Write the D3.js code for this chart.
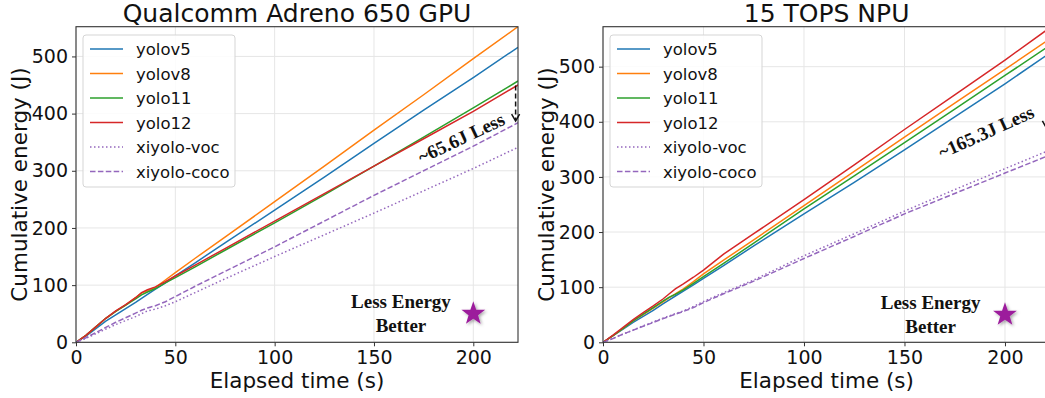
<!DOCTYPE html>
<html><head><meta charset="utf-8">
<script src="https://cdn.jsdelivr.net/npm/d3@7"></script>
<style>html,body{margin:0;padding:0;background:#fff;}svg{display:block;}</style>
</head><body>
<svg id="chart" width="1045" height="398"></svg>
<script>
// ---- data ----
const seriesNames = ["yolov5", "yolov8", "yolo11", "yolo12", "xiyolo-voc", "xiyolo-coco"];
const time = [0, 5, 10, 15, 20, 25, 30, 33, 36, 40, 45, 50, 60, 75, 100, 125, 150, 175, 200, 222.5];

// Qualcomm Adreno 650 GPU
const gpuYolov5 = [0, 11, 24, 37, 48, 59, 70, 77, 84, 93, 104, 116, 139, 174, 231, 289, 348, 406, 463, 516];
const gpuYolov8 = [0, 12, 27, 42, 54, 65, 78, 86, 90, 96, 109, 122, 147, 184, 246, 308, 371, 433, 496, 552];
const gpuYolo11 = [0, 12, 27, 42, 54, 65, 76, 83, 88, 94, 104, 113, 132, 161, 209, 258, 308, 359, 410, 457];
const gpuYolo12 = [0, 12, 27, 42, 55, 66, 78, 87, 92, 97, 106, 116, 135, 164, 212, 260, 308, 356, 404, 450];
const gpuXiVoc  = [0, 7, 15, 23, 31, 38, 45, 50, 55, 58, 64, 71, 87, 111, 150, 188, 226, 265, 304, 341];
const gpuXiCoco = [0, 8, 17, 26, 35, 43, 51, 56, 60, 64, 71, 80, 98, 124, 167, 212, 257, 300, 343, 384];

// 15 TOPS NPU
const npuYolov5 = [0, 12, 24, 36, 47, 58, 70, 77, 84, 93, 104, 116, 139, 175, 233, 290, 349, 409, 469, 525];
const npuYolov8 = [0, 12, 25, 39, 50, 62, 74, 81, 88, 97, 110, 124, 149, 186, 248, 310, 372, 434, 495, 551];
const npuYolo11 = [0, 12, 25, 39, 51, 63, 75, 82, 87, 95, 107, 119, 143, 180, 242, 302, 362, 423, 484, 539];
const npuYolo12 = [0, 13, 27, 41, 54, 66, 79, 88, 97, 106, 118, 131, 160, 197, 259, 322, 386, 449, 512, 571];
const npuXiVoc  = [0, 7, 15, 22, 30, 37, 44, 48, 52, 57, 65, 74, 90, 113, 157, 197, 238, 277, 315, 349];
const npuXiCoco = [0, 7, 15, 22, 29, 36, 43, 47, 51, 56, 63, 72, 88, 111, 152, 192, 233, 270, 307, 340];

const xTicks = [0, 50, 100, 150, 200];
const yTicks = [0, 100, 200, 300, 400, 500];
const titles = ["Qualcomm Adreno 650 GPU", "15 TOPS NPU"];
const annotations = ["~65.6J Less", "~165.3J Less"];
const xLabel = "Elapsed time (s)";
const yLabel = "Cumulative energy (J)";

// ---- styles ----
const colors = ["#1f77b4", "#ff7f0e", "#2ca02c", "#d62728", "#9467bd", "#9467bd"];
const dashes = [null, null, null, null, "1.5,2.5", "5.5,2.4"];

const panels = [
  { title: titles[0], data: [gpuYolov5, gpuYolov8, gpuYolo11, gpuYolo12, gpuXiVoc, gpuXiCoco],
    x0: 76, x1: 518, xMax: 222.5, yMax: 552,
    ann: { text: annotations[0], x: 194.4, y: 354, angle: -25.3 },
    arrow: { x: 221.3, y0: 449, y1: 387 },
    less: { x: 163.6 }, star: { x: 200, y: 50 } },
  { title: titles[1], data: [npuYolov5, npuYolov8, npuYolo11, npuYolo12, npuXiVoc, npuXiCoco],
    x0: 603, x1: 1050.2, xMax: 222.5, yMax: 572.5,
    ann: { text: annotations[1], x: 191, y: 378, angle: -24.4 },
    arrow: { x: 220.6, y0: 571, y1: 389 },
    less: { x: 163 }, star: { x: 200, y: 50 } }
];
const yTop = 26.7, yBot = 342.3;

const svg = d3.select("#chart");
const defs = svg.append("defs");
const f = defs.append("filter").attr("id", "shadow").attr("x", "-50%").attr("y", "-50%").attr("width", "200%").attr("height", "200%");
f.append("feDropShadow").attr("dx", 1.5).attr("dy", 1.5).attr("stdDeviation", 1.5).attr("flood-color", "#000").attr("flood-opacity", 0.35);

function starPath(cx, cy, R, r) {
  const pts = [];
  for (let i = 0; i < 10; i++) {
    const a = -Math.PI / 2 + i * Math.PI / 5;
    const rad = i % 2 === 0 ? R : r;
    pts.push([cx + rad * Math.cos(a), cy + rad * Math.sin(a)]);
  }
  return "M" + pts.map(p => p.join(",")).join("L") + "Z";
}

panels.forEach((p, pi) => {
  const x = d3.scaleLinear().domain([0, p.xMax]).range([p.x0, p.x1]);
  const y = d3.scaleLinear().domain([0, p.yMax]).range([yBot, yTop]);
  const g = svg.append("g");

  defs.append("clipPath").attr("id", "clip" + pi).append("rect")
    .attr("x", p.x0).attr("y", yTop).attr("width", p.x1 - p.x0).attr("height", yBot - yTop);

  // grid
  g.append("g").selectAll("line.vg").data(xTicks).join("line")
    .attr("x1", d => x(d)).attr("x2", d => x(d)).attr("y1", yTop).attr("y2", yBot)
    .attr("stroke", "#e6e6e6").attr("stroke-width", 1);
  g.append("g").selectAll("line.hg").data(yTicks).join("line")
    .attr("x1", p.x0).attr("x2", p.x1).attr("y1", d => y(d)).attr("y2", d => y(d))
    .attr("stroke", "#e6e6e6").attr("stroke-width", 1);

  // lines
  const line = d3.line().x((d, i) => x(time[i])).y(d => y(d));
  const lg = g.append("g").attr("clip-path", `url(#clip${pi})`);
  p.data.forEach((s, si) => {
    lg.append("path").datum(s).attr("d", line).attr("fill", "none")
      .attr("stroke", colors[si]).attr("stroke-width", 1.5)
      .attr("stroke-dasharray", dashes[si]);
  });

  // axes
  const xAxis = g.append("g").attr("transform", `translate(0,${yBot})`)
    .call(d3.axisBottom(x).tickValues(xTicks).tickSize(4).tickPadding(4).tickFormat(d3.format("d")));
  const yAxis = g.append("g").attr("transform", `translate(${p.x0},0)`)
    .call(d3.axisLeft(y).tickValues(yTicks).tickSize(4).tickPadding(4).tickFormat(d3.format("d")));
  [xAxis, yAxis].forEach(a => {
    a.select(".domain").remove();
    a.selectAll(".tick line").attr("stroke", "#333");
    a.selectAll("text").attr("font-family", "DejaVu Sans").attr("font-size", 19).attr("fill", "#111");
  });
  // frame
  g.append("rect").attr("x", p.x0).attr("y", yTop).attr("width", p.x1 - p.x0).attr("height", yBot - yTop)
    .attr("fill", "none").attr("stroke", "#333").attr("stroke-width", 1.1);

  // titles & labels
  const cx = (p.x0 + p.x1) / 2;
  g.append("text").attr("x", cx).attr("y", 22).attr("text-anchor", "middle")
    .attr("font-family", "DejaVu Sans").attr("font-size", 25).attr("fill", "#111").text(p.title);
  g.append("text").attr("x", cx).attr("y", 388).attr("text-anchor", "middle")
    .attr("font-family", "DejaVu Sans").attr("font-size", 21.5).attr("fill", "#111").text(xLabel);
  g.append("text").attr("transform", `translate(${p.x0 - 49},${(yTop + yBot) / 2}) rotate(-90)`)
    .attr("text-anchor", "middle")
    .attr("font-family", "DejaVu Sans").attr("font-size", 21.5).attr("fill", "#111").text(yLabel);

  // legend
  const lx = p.x0 + 7, ly = 35;
  const leg = g.append("g");
  leg.append("rect").attr("x", lx).attr("y", ly).attr("width", 152).attr("height", 152)
    .attr("rx", 3).attr("fill", "#fff").attr("fill-opacity", 0.85).attr("stroke", "#d5d5d5");
  seriesNames.forEach((n, i) => {
    const yy = ly + 14 + i * 24.5;
    leg.append("line").attr("x1", lx + 7).attr("x2", lx + 40).attr("y1", yy).attr("y2", yy)
      .attr("stroke", colors[i]).attr("stroke-width", 1.5).attr("stroke-dasharray", dashes[i]);
    leg.append("text").attr("x", lx + 53).attr("y", yy + 6)
      .attr("font-family", "DejaVu Sans").attr("font-size", 16.5).attr("fill", "#111").text(n);
  });

  // annotation text
  g.append("text").attr("transform", `translate(${x(p.ann.x)},${y(p.ann.y)}) rotate(${p.ann.angle})`)
    .attr("text-anchor", "middle").attr("dominant-baseline", "middle")
    .attr("font-family", "Liberation Serif").attr("font-weight", "bold").attr("font-size", 19)
    .attr("fill", "#111").text(p.ann.text);

  // dashed arrow
  const ax = x(p.arrow.x), ay0 = y(p.arrow.y0), ay1 = y(p.arrow.y1);
  g.append("line").attr("x1", ax).attr("x2", ax).attr("y1", ay0).attr("y2", ay1 - 1)
    .attr("stroke", "#111").attr("stroke-width", 1.5).attr("stroke-dasharray", "5,3");
  g.append("path").attr("d", `M${ax - 4},${ay1 - 7}L${ax},${ay1}L${ax + 4},${ay1 - 7}`)
    .attr("fill", "none").attr("stroke", "#111").attr("stroke-width", 1.5);

  // less energy better
  const sx = x(p.star.x), sy = y(p.star.y);
  g.append("text").attr("x", x(p.less.x)).attr("y", sy - 6).attr("text-anchor", "middle")
    .attr("font-family", "Liberation Serif").attr("font-weight", "bold").attr("font-size", 19)
    .attr("fill", "#111").text("Less Energy");
  g.append("text").attr("x", x(p.less.x)).attr("y", sy + 18).attr("text-anchor", "middle")
    .attr("font-family", "Liberation Serif").attr("font-weight", "bold").attr("font-size", 19)
    .attr("fill", "#111").text("Better");
  g.append("path").attr("d", starPath(sx, sy, 12.5, 5)).attr("fill", "#9c1f9c")
    .attr("filter", "url(#shadow)");
});
</script>
</body></html>
